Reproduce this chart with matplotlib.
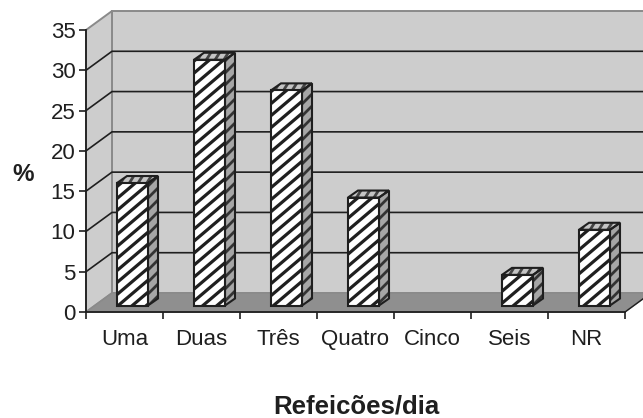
import matplotlib
matplotlib.use("Agg")
import matplotlib.pyplot as plt
import numpy as np
from matplotlib.collections import LineCollection
from matplotlib.patches import Polygon
from matplotlib.transforms import IdentityTransform

plt.rcParams["font.family"] = ["Liberation Sans", "DejaVu Sans"]

categories = ["Uma", "Duas", "Três", "Quatro", "Cinco", "Seis", "NR"]
values = [15.2, 30.5, 26.7, 13.4, 0, 3.8, 9.4]
y_ticks = [0, 5, 10, 15, 20, 25, 30, 35]

W, H = 643, 418
fig = plt.figure(figsize=(W / 100, H / 100), dpi=100, facecolor="white")
ax = fig.add_axes([86 / W, (H - 312) / H, 539 / W, 282 / H])
ax.set_xlim(0, 7)
ax.set_ylim(0, 35)
ax.patch.set_visible(False)

# Oblique projection: wall depth and bar depth, in axis units
ux, uy = 77.0, 282 / 35
wall_dx, wall_dy = 26 / ux, 19 / uy
bar_dx, bar_dy = 10 / ux, 7 / uy
bar_x0, bar_w, bar_y0 = 31 / ux, 31 / ux, 6.5 / uy

WALL = "#cdcdcd"
FLOOR = "#8f8f8f"
EDGE = "#8a8a8a"
INK = "#1f1f1f"
xr = 7 + wall_dx

# Back wall, side wall and floor
ax.add_patch(Polygon([(wall_dx, wall_dy), (xr, wall_dy), (xr, 35 + wall_dy), (wall_dx, 35 + wall_dy)],
                     fc=WALL, ec=EDGE, lw=1.4, clip_on=False, zorder=1))
ax.add_patch(Polygon([(0, 0), (wall_dx, wall_dy), (wall_dx, 35 + wall_dy), (0, 35)],
                     fc=WALL, ec=EDGE, lw=1.4, clip_on=False, zorder=1))
ax.add_patch(Polygon([(0, 0), (wall_dx, wall_dy), (xr, wall_dy), (7, 0)],
                     fc=FLOOR, ec=EDGE, lw=1.0, clip_on=False, zorder=1))

# Gridlines folding from the side wall onto the back wall
for t in y_ticks[1:-1]:
    ax.plot([0, wall_dx, xr], [t, t + wall_dy, t + wall_dy], color=INK, lw=1.2,
            clip_on=False, zorder=2, solid_joinstyle="miter")
ax.plot([7, xr], [0, wall_dy], color=INK, lw=1.0, clip_on=False, zorder=2)


def striped_face(corners, face, z, spacing=12.0, slope=0.85, stripe_lw=2.3, stripe="#1f1f1f"):
    """Fill a polygon and lay diagonal stripes over it, clipped to the polygon."""
    patch = Polygon(corners, fc=face, ec="none", clip_on=False, zorder=z)
    ax.add_patch(patch)
    px = ax.transData.transform(corners)
    # Stripes follow y = slope * x + c in display space
    c = px[:, 1] - slope * px[:, 0]
    k0 = np.floor(c.min() / spacing) - 1
    k1 = np.ceil(c.max() / spacing) + 1
    xa, xb = px[:, 0].min() - 2, px[:, 0].max() + 2
    segs = [[(xa, slope * xa + k * spacing), (xb, slope * xb + k * spacing)]
            for k in np.arange(k0, k1 + 1)]
    lc = LineCollection(segs, colors=stripe, linewidths=stripe_lw, transform=IdentityTransform(), zorder=z + 0.1)
    ax.add_collection(lc, autolim=False)
    lc.set_clip_path(patch)
    ax.add_patch(Polygon(corners, fc="none", ec=INK, lw=1.5, clip_on=False,
                         zorder=z + 0.2, joinstyle="miter"))


for i, v in enumerate(values):
    if v <= 0:
        continue
    x0 = i + bar_x0
    x1 = x0 + bar_w
    b, t = bar_y0, bar_y0 + v
    z = 3 + i
    striped_face([(x1, b), (x1 + bar_dx, b + bar_dy), (x1 + bar_dx, t + bar_dy), (x1, t)],
                 "#a6a6a6", z, slope=1.0, stripe_lw=2.0, stripe="#333333")
    striped_face([(x0, t), (x1, t), (x1 + bar_dx, t + bar_dy), (x0 + bar_dx, t + bar_dy)],
                 "#c4c4c4", z, spacing=14.0, slope=1.6, stripe_lw=2.0, stripe="#444444")
    striped_face([(x0, b), (x1, b), (x1, t), (x0, t)], "white", z + 0.5)

# Axes, ticks and labels
for side in ("top", "right"):
    ax.spines[side].set_visible(False)
for side in ("left", "bottom"):
    ax.spines[side].set_color(INK)
    ax.spines[side].set_linewidth(1.3)
    ax.spines[side].set_zorder(20)

ax.set_yticks(y_ticks)
ax.set_xticks(np.arange(0, 8))
ax.set_xticklabels([])
ax.set_xticks(np.arange(7) + 0.5, labels=categories, minor=True)
ax.tick_params(axis="y", length=5, width=1.2, color=INK, labelsize=16, labelcolor=INK, pad=2.5)
ax.tick_params(axis="x", which="major", length=5, width=1.2, color=INK)
ax.tick_params(axis="x", which="minor", length=0, labelsize=16, labelcolor=INK, pad=12.5)

fig.text(23 / W, 1 - 174 / H, "%", fontsize=17.5, fontweight="bold", color=INK, ha="center", va="center")
fig.text(356 / W, 1 - 414 / H, "Refeicões/dia", fontsize=18.5, fontweight="bold", color=INK,
         ha="center", va="baseline")

fig.savefig("out.png", dpi=100, facecolor="white")
